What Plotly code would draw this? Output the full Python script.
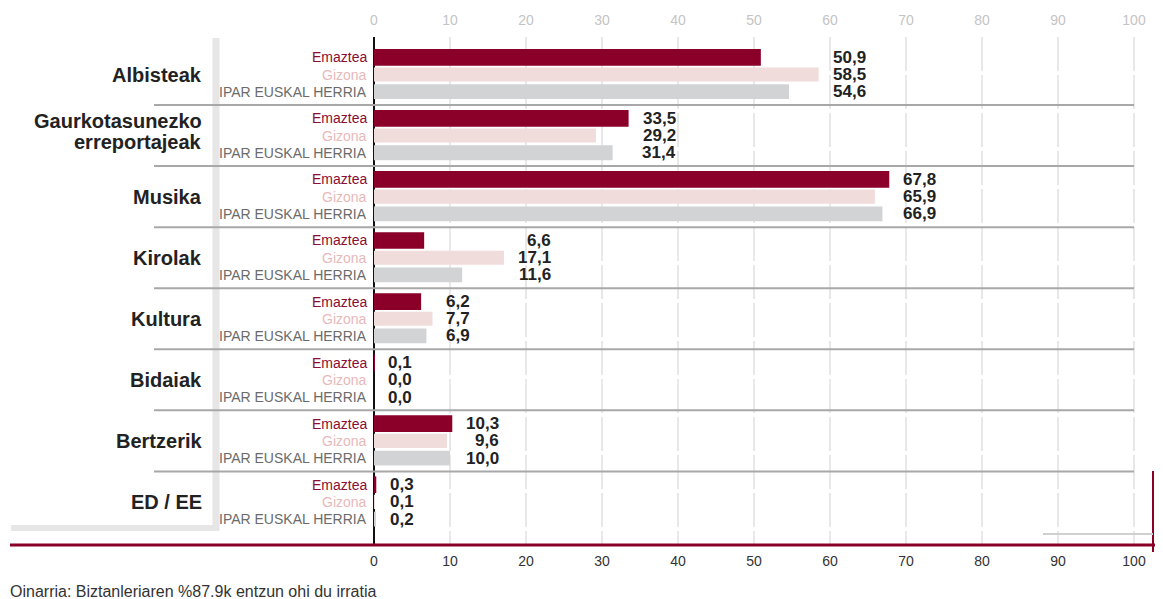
import plotly.graph_objects as go

# data
categories = ["Albisteak", "Gaurkotasunezko<br>erreportajeak", "Musika", "Kirolak",
              "Kultura", "Bidaiak", "Bertzerik", "ED / EE"]
series_names = ["Emaztea", "Gizona", "IPAR EUSKAL HERRIA"]
emaztea = [50.9, 33.5, 67.8, 6.6, 6.2, 0.1, 10.3, 0.3]
gizona = [58.5, 29.2, 65.9, 17.1, 7.7, 0.0, 9.6, 0.1]
ipar = [54.6, 31.4, 66.9, 11.6, 6.9, 0.0, 10.0, 0.2]
tick_vals = [0, 10, 20, 30, 40, 50, 60, 70, 80, 90, 100]
footnote = "Oinarria: Biztanleriaren %87.9k entzun ohi du irratia"

# styling
bar_colors = ["#8a0029", "#f0dcdb", "#d2d3d5"]
bar_widths = [0.97, 0.82, 0.86]
label_colors = ["#8b0d32", "#e8b9b9", "#6b6b6b"]
OFF = 8  # page body margin
FW, FH = 1147, 591
ML, MR, MT, MB = 366, 1, 29, 54
PITCH = 3.55       # group pitch, in bar units
X_PX = 7.6         # pixels per percentage point
Y_PX = 17.2        # pixels per bar unit
plot_w = FW - ML - MR
plot_h = FH - MT - MB
XMAX = plot_w / X_PX


def px_x(px):
    # screen pixel -> paper x
    return (px - OFF - ML) / plot_w


def px_y(py):
    # screen pixel -> paper y
    return (FH - MB - (py - OFF)) / plot_h


def fmt(v):
    return f"{v:.1f}".replace(".", ",")


def est_width(s):
    return sum(4.7 if c == "," else 9.45 for c in s)


series = [emaztea, gizona, ipar]
fig = go.Figure()

for j, (name, vals) in enumerate(zip(series_names, series)):
    ypos = [i * PITCH + j for i in range(len(categories))]
    fig.add_bar(x=vals, y=ypos, orientation="h", name=name,
                marker=dict(color=bar_colors[j], line=dict(width=0)),
                width=bar_widths[j], showlegend=False, hoverinfo="x")

# invisible trace so the top axis is drawn
fig.add_scatter(x=[0], y=[0], xaxis="x2", mode="markers",
                marker=dict(opacity=0), showlegend=False, hoverinfo="skip")

ann = []
shapes = []
for i, cat in enumerate(categories):
    center = i * PITCH + 1
    lines = cat.split("<br>")
    lift = 4 if len(lines) > 1 else 0
    for k, line in enumerate(lines):
        ann.append(dict(x=px_x(204), xref="paper", y=center, yref="y", text=f"<b>{line}</b>",
                        yshift=(len(lines) - 1) / 2 * 21 - k * 21 + lift,
                        xanchor="right", yanchor="middle", showarrow=False,
                        font=dict(family="Liberation Sans, Arial", size=20, color="#222222")))
    vals = [s[i] for s in series]
    labels = [fmt(v) for v in vals]
    shift = 16 + max(est_width(t) for t in labels)
    for j in range(3):
        y = i * PITCH + j
        ann.append(dict(x=0, xref="x", y=y, yref="y", text=series_names[j], xshift=-5,
                        xanchor="right", yanchor="middle", showarrow=False,
                        font=dict(family="Liberation Sans, Arial", size=14,
                                  color=label_colors[j])))
        ann.append(dict(x=max(vals), xref="x", y=y, yref="y", text=f"<b>{labels[j]}</b>",
                        xshift=shift, xanchor="right", yanchor="middle", showarrow=False,
                        font=dict(family="Liberation Sans, Arial", size=17, color="#222222")))
    if i < len(categories) - 1:
        ysep = i * PITCH + 2 + (PITCH - 2) / 2
        shapes.append(dict(type="line", xref="paper", yref="y", x0=px_x(154), x1=px_x(1134),
                           y0=ysep, y1=ysep, line=dict(color="#a8a8a8", width=2), layer="above"))

ann.append(dict(x=px_x(8), xref="paper", y=px_y(591), yref="paper", text=footnote,
                xanchor="left", yanchor="middle", showarrow=False,
                font=dict(family="Liberation Sans, Arial", size=16, color="#333333")))

# left grey bracket
shapes.append(dict(type="line", xref="paper", yref="paper", x0=px_x(216), x1=px_x(216),
                   y0=px_y(38), y1=px_y(531), line=dict(color="#e6e6e7", width=7), layer="below"))
shapes.append(dict(type="line", xref="paper", yref="paper", x0=px_x(11), x1=px_x(219),
                   y0=px_y(528), y1=px_y(528), line=dict(color="#e6e6e7", width=6), layer="below"))
# red base lines
shapes.append(dict(type="line", xref="paper", yref="paper", x0=px_x(10), x1=1.01,
                   y0=px_y(545), y1=px_y(545), line=dict(color="#8a0029", width=3), layer="above"))
shapes.append(dict(type="line", xref="paper", yref="paper", x0=px_x(1153), x1=px_x(1153),
                   y0=px_y(471), y1=px_y(552), line=dict(color="#8a0029", width=2), layer="above"))
shapes.append(dict(type="line", xref="paper", yref="paper", x0=px_x(1043), x1=px_x(1153),
                   y0=px_y(534), y1=px_y(534), line=dict(color="#d0d0d0", width=2), layer="above"))

y_top = -20.3 / Y_PX
y_bottom = y_top + plot_h / Y_PX

fig.update_layout(
    width=FW, height=FH,
    margin=dict(l=ML, r=MR, t=MT, b=MB),
    paper_bgcolor="white", plot_bgcolor="white",
    barmode="overlay",
    annotations=ann, shapes=shapes,
    xaxis=dict(range=[0, XMAX], tickvals=tick_vals, showgrid=True, gridcolor="#e8e8e8",
               gridwidth=2, griddash="34px,4px", zeroline=True, zerolinecolor="#111111",
               zerolinewidth=2, showline=False, ticks="", ticklabelstandoff=6,
               tickfont=dict(family="Liberation Sans, Arial", size=14, color="#333333")),
    xaxis2=dict(range=[0, XMAX], tickvals=tick_vals, overlaying="x", side="top",
                matches="x", showgrid=False, zeroline=False, showline=False, ticks="",
                ticklabelstandoff=8,
                tickfont=dict(family="Liberation Sans, Arial", size=14, color="#c4c4c4")),
    yaxis=dict(range=[y_bottom, y_top], showticklabels=False, showgrid=False,
               zeroline=False, showline=False),
)

fig.write_html("out.html")
